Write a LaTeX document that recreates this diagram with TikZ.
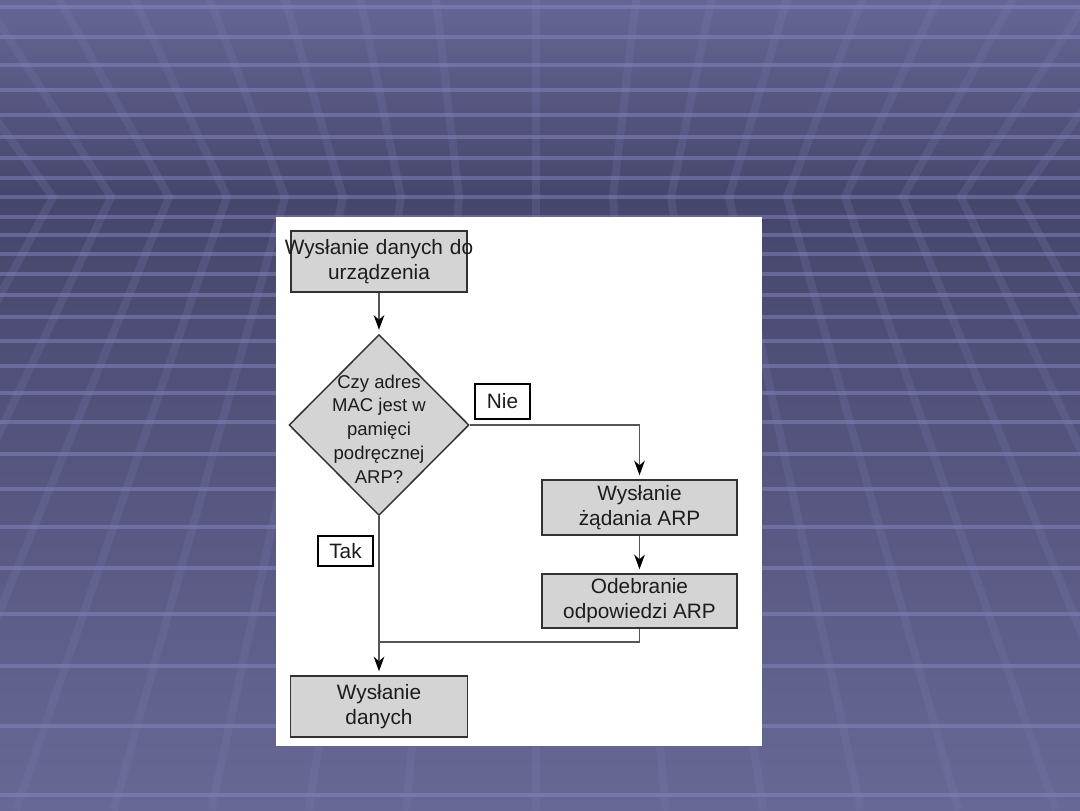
\documentclass[tikz,border=0pt]{standalone}
\usepackage{fontspec}
\setmainfont{Liberation Sans}
\usetikzlibrary{arrows.meta,shapes.geometric}
\definecolor{ceiltop}{RGB}{102,102,150}
\definecolor{horiz}{RGB}{70,70,108}
\definecolor{floorbot}{RGB}{104,104,150}
\definecolor{tileline}{RGB}{140,140,200}
\definecolor{bandcol}{RGB}{128,128,184}
\definecolor{boxfill}{RGB}{212,212,212}
\definecolor{boxline}{RGB}{50,50,50}
\definecolor{conn}{RGB}{85,85,85}
\definecolor{txt}{RGB}{28,28,28}
\tikzset{
  hline/.style={draw=tileline, opacity=0.45, line width=2.3pt},
  band/.style={draw=bandcol, opacity=0.2, line width=6pt},
  box/.style={rectangle, draw=boxline, fill=boxfill, line width=1.1pt, inner sep=0pt,
    text=txt, align=center, font=\fontsize{15.6}{18.6}\selectfont},
  decision/.style={diamond, draw=boxline, fill=boxfill, line width=1.1pt, inner sep=0pt,
    minimum width=135pt, minimum height=135.75pt},
  dtext/.style={text=txt, align=center, inner sep=0pt, font=\fontsize{13.9}{17.8}\selectfont},
  lbl/.style={rectangle, draw=black, fill=white, line width=1pt, inner sep=0pt,
    minimum width=41.25pt, text=txt, font=\fontsize{15.6}{18}\selectfont},
  conn/.style={draw=conn, line width=1.2pt},
  arr/.style={conn, -{Stealth[length=11pt,width=8pt,inset=3.5pt,color=black]}, shorten >=3pt},
}
\begin{document}
\begin{tikzpicture}[x=0.75pt,y=-0.75pt]
\useasboundingbox (0,0) rectangle (1080,810);
% ---------- background ----------
\begin{scope}
\clip (0,0) rectangle (1080,810);
\shade[top color=ceiltop, bottom color=horiz] (0,0) rectangle (1080,197);
\shade[top color=horiz, bottom color=floorbot] (0,197) rectangle (1080,810);
\foreach \y in {7,37,65,90,115,137,158,178,197,217,235,254,274,295,317,341,366,393,422,454,489,527,568,614,666,726,795}
  \draw[hline] (0,\y) -- (1080,\y);
\foreach \h in {53,111,169,227,285,343,401,459}{
  \draw[band] ({\h+(\h-536)*0.45},-100) -- (\h,197) -- ({\h+(\h-536)*0.683},810);
  \draw[band] ({1072-\h-(\h-536)*0.45},-100) -- (1072-\h,197) -- ({1072-\h-(\h-536)*0.683},810);
}
\draw[band] (536,0) -- (536,810);
\end{scope}
% ---------- white panel ----------
\fill[white] (276,217) rectangle (762,746);
% ---------- flowchart ----------
\node[box, minimum width=132pt, minimum height=45.75pt, text width=132pt] (b1) at (379,261.5)
  {\makebox[132pt]{Wysłanie danych do}\\urządzenia};
\node[decision] (d) at (379,425) {};
\node[dtext] (dt) at (379,429) {Czy adres\\MAC jest w\\pamięci\\podręcznej\\ARP?};
\node[box, minimum width=146.25pt, minimum height=41.25pt] (b2) at (639.5,507.5) {Wysłanie\\żądania ARP};
\node[box, minimum width=146.25pt, minimum height=40.5pt] (b3) at (639.5,601) {Odebranie\\odpowiedzi ARP};
\node[box, minimum width=132.75pt, minimum height=45.75pt] (b4) at (379,706.5) {Wysłanie\\danych};
\node[lbl, minimum height=26.25pt] (nie) at (502.5,401.5) {Nie};
\node[lbl, minimum height=22.5pt] (tak) at (345.5,551) {Tak};
\coordinate (j) at (379,642);
\draw[arr] (b1.south) -- (d.north);
\draw[arr] (d.east) -| (b2.north);
\draw[arr] (b2.south) -- (b3.north);
\draw[conn] (b3.south) |- (j);
\draw[arr] (d.south) -- (b4.north);
\end{tikzpicture}
\end{document}
